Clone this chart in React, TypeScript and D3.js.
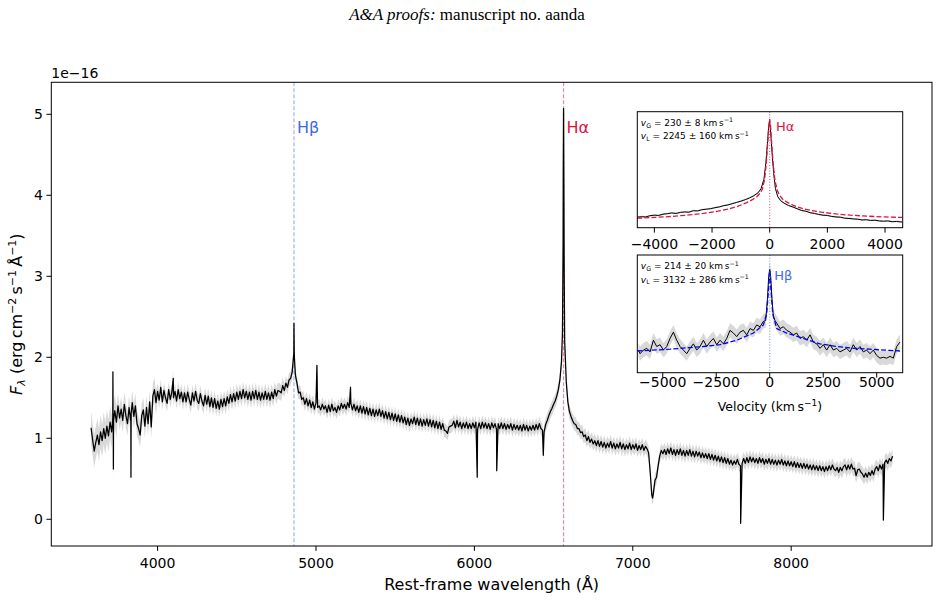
import React from "react";
import * as d3 from "d3";

// ---------------- DATA ----------------
// Main spectrum: flux in units of 1e-16 erg cm^-2 s^-1 Å^-1, sampled every 10 Å from 3580 Å
const specStart = 3580;
const specStep = 10;
const specFlux = [
  1.13, 0.98, 0.84, 0.95, 1.04, 0.92, 1.08, 0.97, 1.12, 1.0,
  1.15, 1.03, 1.2, 1.08, 1.24, 1.34, 1.2, 1.4, 1.25, 1.36,
  1.22, 1.42, 1.28, 1.18, 1.38, 1.22, 1.44, 1.27, 1.4, 1.18,
  1.12, 1.04, 1.28, 1.35, 1.15, 1.38, 1.18, 1.45, 1.14, 1.52,
  1.6, 1.44, 1.58, 1.47, 1.63, 1.45, 1.59, 1.5, 1.43, 1.6,
  1.48, 1.57, 1.5, 1.58, 1.46, 1.6, 1.49, 1.57, 1.45, 1.56,
  1.45, 1.57, 1.48, 1.41, 1.56, 1.46, 1.58, 1.47, 1.43, 1.55,
  1.46, 1.4, 1.53, 1.42, 1.52, 1.39, 1.5, 1.38, 1.49, 1.37,
  1.46, 1.36, 1.48, 1.39, 1.49, 1.4, 1.51, 1.43, 1.54, 1.45,
  1.55, 1.46, 1.57, 1.48, 1.58, 1.49, 1.6, 1.5, 1.58, 1.48,
  1.57, 1.47, 1.58, 1.49, 1.59, 1.48, 1.57, 1.47, 1.56, 1.48,
  1.58, 1.48, 1.56, 1.47, 1.57, 1.49, 1.6, 1.52, 1.59, 1.58,
  1.56, 1.65, 1.59, 1.68, 1.63, 1.72, 1.74, 1.82, 2.05, 1.78,
  1.68, 1.56, 1.57, 1.48, 1.5, 1.42, 1.49, 1.4, 1.47, 1.38,
  1.45, 1.36, 1.44, 1.38, 1.4, 1.35, 1.42, 1.36, 1.4, 1.32,
  1.41, 1.33, 1.42, 1.34, 1.38, 1.32, 1.4, 1.35, 1.43, 1.37,
  1.42, 1.36, 1.44, 1.38, 1.43, 1.35, 1.42, 1.34, 1.4, 1.32,
  1.4, 1.31, 1.39, 1.3, 1.38, 1.29, 1.37, 1.28, 1.36, 1.27,
  1.35, 1.28, 1.36, 1.27, 1.34, 1.25, 1.33, 1.24, 1.32, 1.23,
  1.31, 1.22, 1.3, 1.21, 1.29, 1.2, 1.28, 1.19, 1.26, 1.17,
  1.25, 1.16, 1.24, 1.18, 1.26, 1.17, 1.25, 1.16, 1.24, 1.15,
  1.23, 1.16, 1.24, 1.15, 1.23, 1.14, 1.22, 1.13, 1.21, 1.12,
  1.2, 1.11, 1.18, 1.1, 1.09, 1.06, 1.14, 1.15, 1.16, 1.21,
  1.13, 1.22, 1.14, 1.2, 1.12, 1.19, 1.13, 1.2, 1.12, 1.18,
  1.12, 1.19, 1.13, 1.2, 1.11, 1.19, 1.12, 1.2, 1.13, 1.19,
  1.12, 1.18, 1.11, 1.19, 1.13, 1.18, 1.11, 1.18, 1.12, 1.19,
  1.12, 1.18, 1.11, 1.17, 1.12, 1.18, 1.1, 1.17, 1.11, 1.16,
  1.1, 1.16, 1.09, 1.17, 1.1, 1.16, 1.09, 1.15, 1.1, 1.16,
  1.1, 1.17, 1.11, 1.18, 1.12, 1.1, 1.08, 1.17, 1.22, 1.28,
  1.33, 1.37, 1.42, 1.46, 1.52, 1.6, 1.72, 1.95, 3.4, 2.2,
  1.7, 1.45, 1.33, 1.27, 1.22, 1.18, 1.17, 1.12, 1.12, 1.07,
  1.08, 1.02, 1.04, 0.97, 1.02, 0.95, 0.99, 0.93, 0.97, 0.91,
  0.97, 0.9, 0.96, 0.89, 0.95, 0.88, 0.94, 0.89, 0.96, 0.88,
  0.94, 0.87, 0.93, 0.88, 0.95, 0.87, 0.93, 0.86, 0.92, 0.87,
  0.94, 0.86, 0.92, 0.87, 0.93, 0.85, 0.91, 0.86, 0.92, 0.85,
  0.9, 0.87, 0.82, 0.58, 0.3, 0.32, 0.48, 0.52, 0.66, 0.78,
  0.85, 0.81, 0.86, 0.8, 0.87, 0.81, 0.88, 0.8, 0.86, 0.79,
  0.86, 0.8, 0.87, 0.79, 0.85, 0.78, 0.85, 0.79, 0.86, 0.78,
  0.84, 0.77, 0.84, 0.78, 0.83, 0.76, 0.82, 0.76, 0.81, 0.75,
  0.81, 0.74, 0.8, 0.73, 0.79, 0.72, 0.78, 0.71, 0.77, 0.7,
  0.76, 0.69, 0.75, 0.68, 0.73, 0.67, 0.72, 0.68, 0.74, 0.68,
  0.66, 0.69, 0.75, 0.69, 0.76, 0.7, 0.77, 0.71, 0.76, 0.7,
  0.75, 0.69, 0.76, 0.7, 0.75, 0.68, 0.74, 0.69, 0.75, 0.68,
  0.74, 0.68, 0.73, 0.67, 0.73, 0.68, 0.74, 0.67, 0.72, 0.66,
  0.72, 0.66, 0.71, 0.65, 0.71, 0.64, 0.7, 0.64, 0.69, 0.63,
  0.69, 0.63, 0.68, 0.62, 0.67, 0.61, 0.67, 0.61, 0.66, 0.6,
  0.66, 0.6, 0.65, 0.59, 0.65, 0.6, 0.66, 0.61, 0.67, 0.62,
  0.6, 0.64, 0.58, 0.64, 0.6, 0.65, 0.67, 0.61, 0.67, 0.62,
  0.68, 0.62, 0.63, 0.54, 0.61, 0.62, 0.58, 0.56, 0.52, 0.57,
  0.52, 0.58, 0.54, 0.6, 0.55, 0.62, 0.65, 0.6, 0.67, 0.62,
  0.68, 0.7, 0.73, 0.69, 0.75, 0.72, 0.78,
];

// Narrow features (emission peaks / absorption dips) read at finer resolution
const featWave = [3717, 3718, 3719, 3721, 3722, 3831, 3832, 3833, 4099, 4861, 4863, 5006, 5218, 6018, 6141, 6435, 6556, 6561, 6563, 6565, 6567, 7125, 7681, 8582];
const featFlux = [1.24, 1.82, 1.2, 0.62, 1.22, 1.28, 0.52, 1.3, 1.74, 2.42, 2.02, 1.9, 1.63, 0.52, 0.6, 0.79, 2.3, 4.3, 5.07, 4.2, 3.1, 0.26, -0.05, -0.01];

// Flux uncertainty (half-width of grey band), by wavelength range
const errEdge = [3580, 3750, 4000, 4800, 8300];
const errHalf = [0.2, 0.15, 0.1, 0.085, 0.09];

const xTicks = [4000, 5000, 6000, 7000, 8000];
const yTicks = [0, 1, 2, 3, 4, 5];

const lineNames = ["Hβ", "Hα"];
const lineWaves = [4861, 6563];

// Hα inset (velocity in km/s)
const haVel = [-4600, -4450, -4300, -4150, -4000, -3850, -3700, -3550, -3400, -3250, -3100, -2950, -2800, -2650, -2500, -2350, -2200, -2050, -1900, -1750, -1600, -1450, -1300, -1150, -1000, -850, -700, -550, -400, -300, -200, -130, -80, -40, -10, 20, 50, 90, 140, 200, 280, 380, 500, 650, 800, 950, 1100, 1250, 1400, 1550, 1700, 1850, 2000, 2150, 2300, 2450, 2600, 2750, 2900, 3050, 3200, 3350, 3500, 3650, 3800, 3950, 4100, 4250, 4400, 4550, 4600];
const haFlux = [1.16, 1.18, 1.17, 1.22, 1.24, 1.23, 1.28, 1.3, 1.33, 1.31, 1.35, 1.37, 1.36, 1.42, 1.41, 1.46, 1.48, 1.5, 1.54, 1.57, 1.62, 1.65, 1.7, 1.75, 1.8, 1.86, 1.93, 2.02, 2.14, 2.3, 2.68, 3.35, 4.1, 4.7, 5.0, 4.8, 4.3, 3.6, 2.9, 2.3, 1.98, 1.82, 1.72, 1.63, 1.57, 1.5, 1.43, 1.4, 1.34, 1.31, 1.27, 1.24, 1.23, 1.19, 1.17, 1.16, 1.12, 1.11, 1.09, 1.08, 1.05, 1.06, 1.03, 1.04, 1.01, 1.0, 1.01, 0.98, 0.99, 0.97, 0.97];
const haFitVel = [-4600, -4000, -3400, -2800, -2300, -1800, -1400, -1100, -800, -600, -450, -330, -250, -180, -120, -70, -30, 0, 30, 70, 120, 180, 250, 330, 450, 600, 800, 1100, 1400, 1800, 2300, 2800, 3400, 4000, 4600];
const haFitFlux = [1.12, 1.15, 1.19, 1.25, 1.31, 1.4, 1.5, 1.6, 1.74, 1.86, 1.98, 2.12, 2.3, 2.65, 3.3, 4.1, 4.8, 5.08, 4.8, 4.1, 3.3, 2.65, 2.28, 2.06, 1.88, 1.76, 1.64, 1.52, 1.44, 1.36, 1.29, 1.24, 1.2, 1.17, 1.15];
const haVG = 230, haVGerr = 8, haVL = 2245, haVLerr = 160;
const haTicks = [-4000, -2000, 0, 2000, 4000];

// Hβ inset
const hbVel = [-6138, -6060, -5905, -5749, -5593, -5437, -5282, -5126, -4970, -4814, -4659, -4503, -4347, -4191, -4036, -3880, -3724, -3568, -3413, -3257, -3101, -2945, -2790, -2634, -2478, -2322, -2166, -2011, -1855, -1699, -1543, -1388, -1232, -1076, -920, -765, -609, -453, -297, -188, -110, -48, 0, 45, 108, 170, 248, 326, 482, 637, 793, 949, 1105, 1260, 1416, 1572, 1728, 1883, 2039, 2195, 2351, 2506, 2662, 2818, 2974, 3129, 3285, 3441, 3597, 3752, 3908, 4064, 4220, 4375, 4531, 4687, 4843, 4999, 5154, 5310, 5466, 5622, 5777, 5933, 6089];
const hbFlux = [1.52, 1.48, 1.52, 1.54, 1.5, 1.63, 1.56, 1.58, 1.52, 1.56, 1.65, 1.72, 1.63, 1.56, 1.52, 1.48, 1.54, 1.59, 1.52, 1.56, 1.63, 1.56, 1.61, 1.65, 1.58, 1.63, 1.59, 1.65, 1.74, 1.71, 1.67, 1.72, 1.74, 1.69, 1.76, 1.74, 1.8, 1.78, 1.84, 1.85, 2.08, 2.34, 2.42, 2.34, 2.08, 1.89, 1.85, 1.82, 1.76, 1.78, 1.74, 1.72, 1.69, 1.71, 1.65, 1.67, 1.63, 1.69, 1.61, 1.59, 1.54, 1.58, 1.52, 1.58, 1.52, 1.54, 1.5, 1.52, 1.54, 1.5, 1.58, 1.52, 1.56, 1.5, 1.52, 1.48, 1.52, 1.46, 1.43, 1.44, 1.43, 1.45, 1.43, 1.56, 1.61];
const hbFitVel = [-6185, -4659, -3101, -2322, -1543, -765, -297, -140, -57, 0, 57, 140, 326, 793, 1572, 2351, 3129, 3908, 4687, 6089];
const hbFitFlux = [1.51, 1.53, 1.56, 1.58, 1.63, 1.71, 1.8, 1.93, 2.19, 2.41, 2.19, 1.93, 1.76, 1.71, 1.65, 1.59, 1.56, 1.54, 1.53, 1.51];
const hbVG = 214, hbVGerr = 20, hbVL = 3132, hbVLerr = 286;
const hbTicks = [-5000, -2500, 0, 2500, 5000];

// ---------------- STYLE ----------------
const FONT = "DejaVu Sans";
const HA_COLOR = "#dc143c";
const HB_COLOR = "#4169e1";
const HB_FIT = "#0000ff";
const BAND = "#d9d9d9";
const lineColors = [HB_COLOR, HA_COLOR];

const fmt = (v: number) => (v < 0 ? "\u2212" + Math.abs(v) : String(v));

type Pt = [number, number];

function Inset(props: any) {
  const { id, left, top, width, height, xDomain, yDomain, ticks, vel, flux, bandHalf, fitVel, fitFlux, fitColor, markColor, label, labelX, labelY, vG, vGerr, vL, vLerr, tickBaseline, xlabel } = props;
  const sx = d3.scaleLinear().domain(xDomain).range([left, left + width]);
  const sy = d3.scaleLinear().domain(yDomain).range([top + height, top]);
  const pts: Pt[] = vel.map((v: number, i: number) => [v, flux[i]] as Pt);
  const fit: Pt[] = fitVel.map((v: number, i: number) => [v, fitFlux[i]] as Pt);
  const line = d3.line<Pt>().x((d) => sx(d[0])).y((d) => sy(d[1]));
  const area = d3
    .area<Pt>()
    .x((d) => sx(d[0]))
    .y0((d) => sy(d[1] - bandHalf))
    .y1((d) => sy(d[1] + bandHalf));
  const bottom = top + height;
  return (
    <g>
      <defs>
        <clipPath id={id}>
          <rect x={left} y={top} width={width} height={height} />
        </clipPath>
      </defs>
      <rect x={left} y={top} width={width} height={height} fill="#fff" />
      <g clipPath={`url(#${id})`}>
        <path d={area(pts) || ""} fill={BAND} />
        <path d={line(pts) || ""} fill="none" stroke="#000" strokeWidth={1} />
        <path d={line(fit) || ""} fill="none" stroke={fitColor} strokeWidth={1.3} strokeDasharray="5,2.2" />
        <line x1={sx(0)} x2={sx(0)} y1={top} y2={bottom} stroke={markColor} strokeOpacity={0.7} strokeWidth={1.1} strokeDasharray="1,1.8" />
      </g>
      <rect x={left} y={top} width={width} height={height} fill="none" stroke="#000" strokeWidth={1} />
      {ticks.map((t: number) => (
        <g key={t}>
          <line x1={sx(t)} x2={sx(t)} y1={bottom} y2={bottom + 4.9} stroke="#000" strokeWidth={1} />
          <text x={sx(t)} y={tickBaseline} fontSize={14} textAnchor="middle">
            {fmt(t)}
          </text>
        </g>
      ))}
      <text x={labelX} y={labelY} fontSize={13} fill={markColor}>
        {label}
      </text>
      <text x={left + 3.5} y={top + 14} fontSize={9}>
        <tspan fontStyle="italic">v</tspan>
        <tspan fontSize={6.3} dy={1.8}>G</tspan>
        <tspan dy={-1.8}>{` = ${vG} ± ${vGerr} km\u2009s`}</tspan>
        <tspan fontSize={6.3} dy={-3.5}>{"\u22121"}</tspan>
      </text>
      <text x={left + 3.5} y={top + 27.5} fontSize={9}>
        <tspan fontStyle="italic">v</tspan>
        <tspan fontSize={6.3} dy={1.8}>L</tspan>
        <tspan dy={-1.8}>{` = ${vL} ± ${vLerr} km\u2009s`}</tspan>
        <tspan fontSize={6.3} dy={-3.5}>{"\u22121"}</tspan>
      </text>
      {xlabel ? (
        <text x={left + width / 2} y={xlabel} fontSize={12.5} textAnchor="middle">
          <tspan>{"Velocity (km\u2009s"}</tspan>
          <tspan fontSize={9} dy={-5}>{"\u22121"}</tspan>
          <tspan dy={5}>)</tspan>
        </text>
      ) : null}
    </g>
  );
}

export default function App() {
  const ml = 51.3, mr = 932, mt = 82.3, mb = 546;
  const x = d3.scaleLinear().domain([3329, 8889]).range([ml, mr]);
  const y = d3.scaleLinear().domain([-0.33, 5.395]).range([mb, mt]);

  const pts: Pt[] = specFlux
    .map((f, i) => [specStart + specStep * i, f] as Pt)
    .concat(featWave.map((w, i) => [w, featFlux[i]] as Pt))
    .sort((a, b) => a[0] - b[0]);

  const errAt = (w: number) => errHalf[Math.max(0, d3.bisectRight(errEdge, w) - 1)];
  const line = d3.line<Pt>().x((d) => x(d[0])).y((d) => y(d[1]));
  const area = d3
    .area<Pt>()
    .x((d) => x(d[0]))
    .y0((d) => y(d[1] - errAt(d[0])))
    .y1((d) => y(d[1] + errAt(d[0])));

  return (
    <svg
      width={939}
      height={600}
      style={{ position: "absolute", left: 0, top: 0, background: "#fff" }}
      fontFamily={FONT}
    >
      <rect x={0} y={0} width={939} height={600} fill="#fff" />
      <text x={467} y={20} fontSize={17} textAnchor="middle" fontFamily="Liberation Serif">
        <tspan fontStyle="italic">A&amp;A proofs:</tspan>
        <tspan> manuscript no. aanda</tspan>
      </text>

      {/* grey uncertainty band + spectrum */}
      <path d={area(pts) || ""} fill={BAND} />
      {lineWaves.map((w, i) => (
        <line key={w} x1={x(w)} x2={x(w)} y1={mt} y2={mb} stroke={lineColors[i]} strokeOpacity={0.5} strokeWidth={1.2} strokeDasharray="4,2" />
      ))}
      <path d={line(pts) || ""} fill="none" stroke="#000" strokeWidth={1.25} strokeLinejoin="round" />
      {lineWaves.map((w, i) => (
        <text key={w} x={x(w) + 3} y={133} fontSize={16} fill={lineColors[i]}>
          {lineNames[i]}
        </text>
      ))}

      {/* axes frame */}
      <rect x={ml} y={mt} width={mr - ml} height={mb - mt} fill="none" stroke="#000" strokeWidth={1} />
      {xTicks.map((t) => (
        <g key={t}>
          <line x1={x(t)} x2={x(t)} y1={mb} y2={mb + 4.9} stroke="#000" strokeWidth={1} />
          <text x={x(t)} y={568} fontSize={14} textAnchor="middle">
            {t}
          </text>
        </g>
      ))}
      {yTicks.map((t) => (
        <g key={t}>
          <line x1={ml - 4.9} x2={ml} y1={y(t)} y2={y(t)} stroke="#000" strokeWidth={1} />
          <text x={43} y={y(t) + 5} fontSize={14} textAnchor="end">
            {t}
          </text>
        </g>
      ))}
      <text x={ml} y={78} fontSize={14}>
        1e−16
      </text>
      <text x={(ml + mr) / 2} y={590} fontSize={16} textAnchor="middle">
        Rest-frame wavelength (Å)
      </text>
      <text transform={`translate(22, ${(mt + mb) / 2}) rotate(-90)`} fontSize={16} textAnchor="middle">
        <tspan fontStyle="italic">F</tspan>
        <tspan fontStyle="italic" fontSize={11} dy={3}>λ</tspan>
        <tspan dy={-3}>{" (erg\u2009cm"}</tspan>
        <tspan fontSize={11} dy={-6}>{"\u22122"}</tspan>
        <tspan dy={6}>{"\u2009s"}</tspan>
        <tspan fontSize={11} dy={-6}>{"\u22121"}</tspan>
        <tspan dy={6}>{"\u2009Å"}</tspan>
        <tspan fontSize={11} dy={-6}>{"\u22121"}</tspan>
        <tspan dy={6}>)</tspan>
      </text>

      <Inset
        id="clipHa"
        left={637.3}
        top={111.7}
        width={265.4}
        height={116}
        xDomain={[-4592, 4613]}
        yDomain={[0.74, 5.38]}
        ticks={haTicks}
        vel={haVel}
        flux={haFlux}
        bandHalf={0.035}
        fitVel={haFitVel}
        fitFlux={haFitFlux}
        fitColor={HA_COLOR}
        markColor={HA_COLOR}
        label="Hα"
        labelX={776}
        labelY={131}
        vG={haVG}
        vGerr={haVGerr}
        vL={haVL}
        vLerr={haVLerr}
        tickBaseline={249}
      />
      <Inset
        id="clipHb"
        left={637.3}
        top={255}
        width={265.4}
        height={117.7}
        xDomain={[-6190, 6215]}
        yDomain={[1.268, 2.58]}
        ticks={hbTicks}
        vel={hbVel}
        flux={hbFlux}
        bandHalf={0.08}
        fitVel={hbFitVel}
        fitFlux={hbFitFlux}
        fitColor={HB_FIT}
        markColor={HB_COLOR}
        label="Hβ"
        labelX={774.3}
        labelY={280}
        vG={hbVG}
        vGerr={hbVGerr}
        vL={hbVL}
        vLerr={hbVLerr}
        tickBaseline={387}
        xlabel={411}
      />
    </svg>
  );
}
